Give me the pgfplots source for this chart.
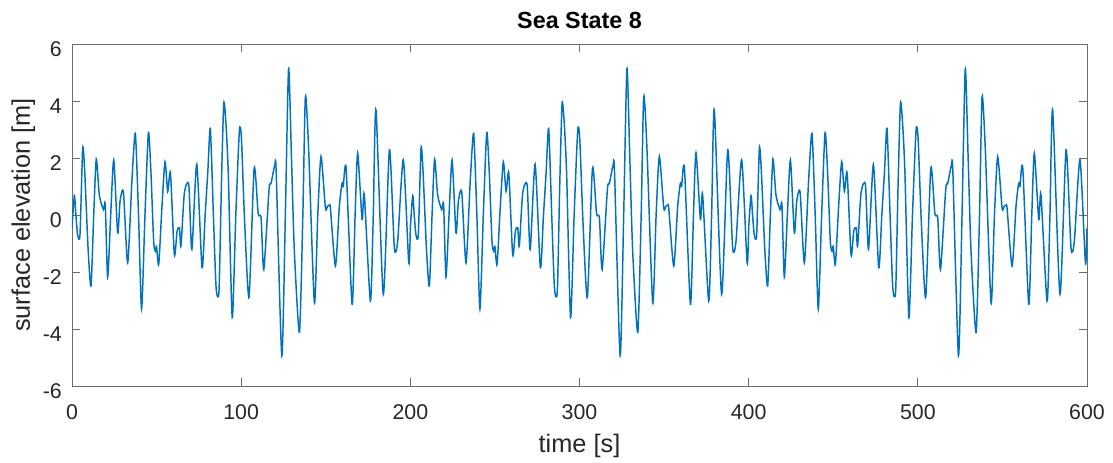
\documentclass[border=0pt]{standalone}
\usepackage{fontspec}
\setmainfont{Liberation Sans}
\usepackage{pgfplots}
\usepackage{pgfplotstable}
\pgfplotsset{compat=1.18}
\definecolor{mblue}{RGB}{0,114,189}
\definecolor{axgray}{RGB}{38,38,38}
\pgfplotstableread{
t y
0 -0.45
1.40 0.68
2.31 0.0
3.31 -0.69
4.72 -0.69
6.32 2.34
7.53 1.5
9.53 -1.2
11.24 -2.49
12.84 0.0
14.35 1.96
16.15 0.7
18.56 0.19
19.67 0.36
21.07 -2.18
22.88 0.0
24.68 1.93
26.99 -0.63
28.40 0.48
30.40 0.8
32.91 -1.68
35.42 1.2
37.43 2.86
39.33 0.0
41.14 -3.3
43.14 0.0
45.15 2.89
46.66 1.5
48.26 -0.92
49.27 -1.27
49.97 -1.1
51.27 -1.73
53.18 0.3
54.98 1.87
56.59 0.83
58.20 1.47
60.50 -1.39
62.11 -0.57
63.51 -0.45
64.42 -1.09
66.42 0.77
69.03 1.06
70.84 -1.21
73.75 1.78
76.86 -1.85
78.66 -0.05
80.27 1.5
81.77 3.04
83.58 0.0
85.19 -2.55
86.89 -2.67
88.30 1.0
89.70 3.91
91.01 3.2
92.41 1.41
94.72 -3.6
96.83 0.0
98.93 2.95
100.14 2.7
102.04 -0.22
104.65 -2.89
107.66 1.64
110.07 0.05
111.78 -0.1
113.38 -1.91
116.49 0.9
117.70 1.12
119.90 1.76
120.71 1.5
124.02 -4.94
126.12 0.0
128.03 5.13
129.74 2.0
131.44 -1.27
134.45 -4.12
136.46 0.0
137.96 4.15
139.87 2.34
143.28 -3.08
145.29 0.0
147.19 2.05
149.80 0.25
151.01 0.3
152.21 0.35
152.81 0.2
155.72 -1.79
158.03 0.3
159.64 1.12
160.34 1.0
162.04 1.64
165.56 -3.13
167.36 0.0
168.87 2.17
171.48 -0.16
172.78 0.71
176.39 -3.02
178.10 0.0
179.70 3.69
184.02 -2.78
187.63 2.29
190.54 -1.15
192.55 -0.9
195.86 1.94
199.07 -1.68
200 -0.45
}\period
\begin{document}
\begin{tikzpicture}
\useasboundingbox (-54pt,-57.75pt) rectangle (780.75pt,289.5pt);
\begin{axis}[
  at={(0,0)}, anchor=south west,
  scale only axis, width=761.25pt, height=256.5pt,
  xmin=0, xmax=600, ymin=-6, ymax=6,
  xtick={0,100,...,600}, ytick={-6,-4,...,6},
  tick align=inside, major tick length=6pt,
  axis line style={draw=gray!85!black, line width=0.6pt},
  every tick/.style={gray!85!black, line width=0.6pt},
  tick label style={font=\fontsize{16}{18}\selectfont, text=axgray, inner sep=0pt},
  /pgf/number format/assume math mode=true,
  xticklabel style={anchor=base, yshift=-25.5pt},
  yticklabel style={anchor=east, xshift=-7.5pt, yshift=-3.5pt},
  xlabel={time [s]}, ylabel={surface elevation [m]},
  label style={font=\fontsize{19}{21}\selectfont, text=axgray},
  xlabel style={at={(axis description cs:0.5,0)}, anchor=center, yshift=-45pt},
  ylabel style={at={(axis description cs:0,0.5)}, anchor=center, yshift=36.5pt},
  every axis title shift=0pt,
  title={Sea State 8},
  title style={at={(axis description cs:0.5,1)}, anchor=center, yshift=17.5pt, font=\bfseries\fontsize{17.5}{19}\selectfont, text=black},
  clip=true,
]
\addplot[mblue, line width=1.1pt, smooth, tension=0.4] table[x=t,y=y]{\period};
\addplot[mblue, line width=1.1pt, smooth, tension=0.4] table[x expr=\thisrow{t}+200,y=y]{\period};
\addplot[mblue, line width=1.1pt, smooth, tension=0.4] table[x expr=\thisrow{t}+400,y=y]{\period};
\end{axis}
\end{tikzpicture}
\end{document}
